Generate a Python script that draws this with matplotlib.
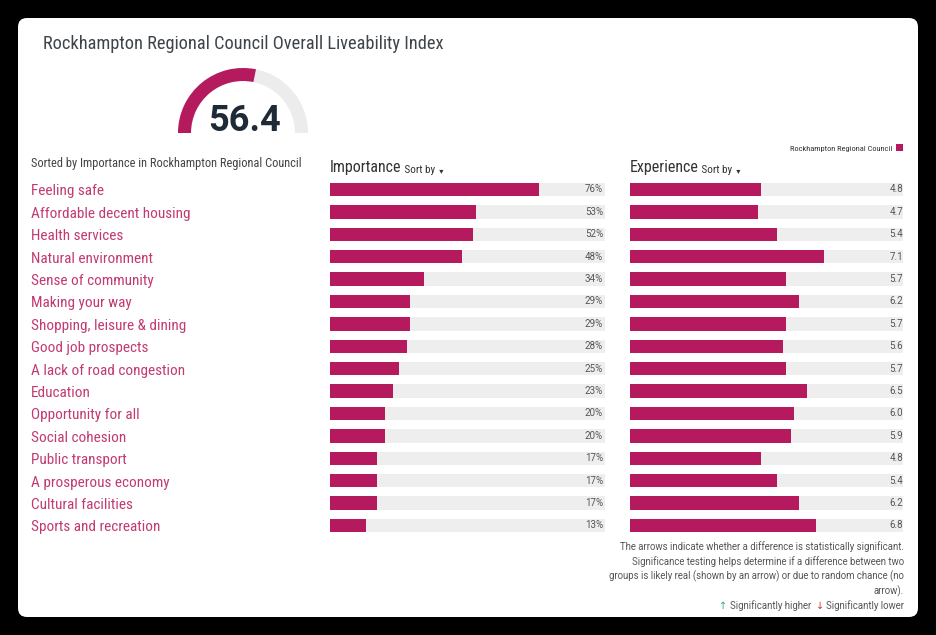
import matplotlib
matplotlib.use("Agg")
import matplotlib.pyplot as plt
from matplotlib.patches import FancyBboxPatch, Wedge, Rectangle
from matplotlib import transforms

# data
index_value = 56.4
categories = [
    "Feeling safe", "Affordable decent housing", "Health services",
    "Natural environment", "Sense of community", "Making your way",
    "Shopping, leisure & dining", "Good job prospects",
    "A lack of road congestion", "Education", "Opportunity for all",
    "Social cohesion", "Public transport", "A prosperous economy",
    "Cultural facilities", "Sports and recreation",
]
importance = [76, 53, 52, 48, 34, 29, 29, 28, 25, 23, 20, 20, 17, 17, 17, 13]
experience = [4.8, 4.7, 5.4, 7.1, 5.7, 6.2, 5.7, 5.6, 5.7, 6.5, 6.0, 5.9, 4.8, 5.4, 6.2, 6.8]
importance_max = 100
experience_max = 10
footnote = [
    "The arrows indicate whether a difference is statistically significant.",
    "Significance testing helps determine if a difference between two",
    "groups is likely real (shown by an arrow) or due to random chance (no",
    "arrow).",
]

BAR = "#b5195e"
LABEL = "#c23a72"
TRACK = "#eeeeee"
COND = ["Roboto Condensed", "Liberation Sans Narrow", "DejaVu Sans"]
PLAIN = ["Roboto", "DejaVu Sans"]

W, H = 936, 635
fig = plt.figure(figsize=(W / 100, H / 100), dpi=100, facecolor="black")

bg = fig.add_axes([0, 0, 1, 1])
bg.set_xlim(0, W)
bg.set_ylim(H, 0)
bg.axis("off")
bg.add_patch(FancyBboxPatch((18, 18), 900, 599, boxstyle="round,pad=0,rounding_size=9",
                            facecolor="white", edgecolor="none"))

bg.text(43, 49, "Rockhampton Regional Council Overall Liveability Index", family=COND,
        fontsize=13.2, color="#3f4449", va="baseline")

# gauge (y axis is inverted, so the upper half is 180..360)
cx, cy, r_out, width = 243, 133, 65, 13
bg.add_patch(Wedge((cx, cy), r_out, 180, 360, width=width, facecolor="#ececec", edgecolor="none"))
bg.add_patch(Wedge((cx, cy), r_out, 180, 180 + 180 * index_value / 100, width=width,
                   facecolor=BAR, edgecolor="none"))
bg.text(cx + 1, 131, f"{index_value:.1f}", family=PLAIN, weight="bold", fontsize=26,
        color="#1e2b36", ha="center", va="baseline")

bg.text(31, 167, "Sorted by Importance in Rockhampton Regional Council", family=COND,
        fontsize=8.9, color="#444444", va="baseline")

# legend
bg.text(892, 151, "Rockhampton Regional Council", family=COND, fontsize=6,
        color="#333333", ha="right", va="baseline")
bg.add_patch(Rectangle((896, 144), 7, 7, facecolor=BAR, edgecolor="none"))

# column headers
for x0, name in [(330, "Importance"), (630, "Experience")]:
    t = bg.text(x0, 172, name, family=COND, fontsize=11.5, color="#333333", va="baseline")
    t = bg.annotate(" Sort by", xycoords=t, xy=(1, 0), va="bottom", family=COND,
                    fontsize=8, color="#333333")
    bg.annotate("  \u25be", xycoords=t, xy=(1, 0), va="bottom", family=PLAIN,
                fontsize=6, color="#333333")

n = len(categories)
row_h = 22.4
top_px = 189.5 - row_h / 2
h_frac = n * row_h / H
b_frac = (H - top_px) / H - h_frac

ax_imp = fig.add_axes([330 / W, b_frac, 275 / W, h_frac])
ax_exp = fig.add_axes([630 / W, b_frac, 273 / W, h_frac])
ypos = list(range(n))
for ax, vals, vmax in [(ax_imp, importance, importance_max), (ax_exp, experience, experience_max)]:
    ax.barh(ypos, [vmax] * n, height=0.6, color=TRACK)
    ax.barh(ypos, vals, height=0.6, color=BAR)
    ax.set_xlim(0, vmax)
    ax.set_ylim(n - 0.5, -0.5)
    ax.axis("off")

down = transforms.ScaledTranslation(0, -2 / 100, fig.dpi_scale_trans)
tr_imp = transforms.blended_transform_factory(bg.transData, ax_imp.transData)
tr_exp = transforms.blended_transform_factory(bg.transData, ax_exp.transData)
for i, (cat, v) in enumerate(zip(categories, importance)):
    ax_imp.text(31, i, cat, transform=tr_imp + down, family=COND, fontsize=11, color=LABEL,
                va="center", ha="left")
    ax_imp.text(603, i, f"{v}%", transform=tr_imp, family=PLAIN, fontsize=7, color="#555555",
                va="center", ha="right", zorder=5)
for i, v in enumerate(experience):
    ax_exp.text(903, i, f"{v:.1f}", transform=tr_exp, family=PLAIN, fontsize=7, color="#555555",
                va="center", ha="right", zorder=5)

for k, line in enumerate(footnote):
    bg.text(904, 550 + k * 14.8, line, family=PLAIN, fontsize=6.9, color="#555555",
            ha="right", va="baseline")
t = bg.text(904, 609, "Significantly lower", family=PLAIN, fontsize=6.9, color="#555555",
            ha="right", va="baseline")
t = bg.annotate("\u2193 ", xycoords=t, xy=(0, 0), ha="right", va="bottom", family=PLAIN,
                fontsize=7, color="#d0343f")
t = bg.annotate("Significantly higher  ", xycoords=t, xy=(0, 0), ha="right", va="bottom",
                family=PLAIN, fontsize=6.9, color="#555555")
bg.annotate("\u2191 ", xycoords=t, xy=(0, 0), ha="right", va="bottom", family=PLAIN,
            fontsize=7, color="#2fae7a")

fig.savefig("out.png", dpi=100, facecolor="black")
